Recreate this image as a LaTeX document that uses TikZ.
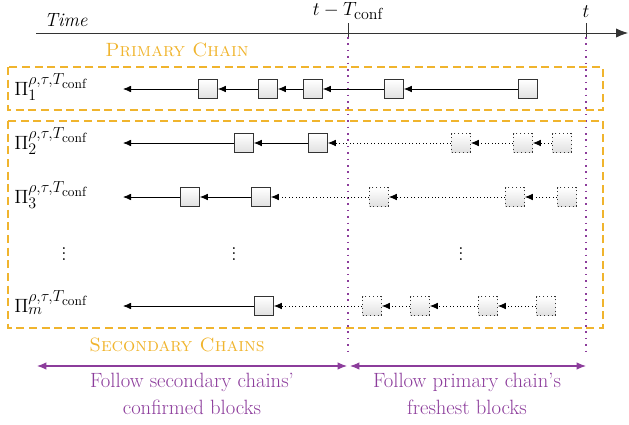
\documentclass[tikz,border=0pt]{standalone}
\usepackage{fontspec}
\usetikzlibrary{arrows.meta}
\DeclareMathSizes{14.4}{14.4}{12}{10}
\definecolor{chainorange}{RGB}{240,180,45}
\definecolor{followpurple}{RGB}{140,60,155}
\tikzset{
  blk/.style={draw=black!80, line width=0.8pt, minimum size=14pt, inner sep=0pt, top color=white, bottom color=black!12},
  fblk/.style={blk, dotted},
  link/.style={-{Latex[length=6pt,width=5pt]}, line width=0.6pt},
  flink/.style={link, dotted},
  chainbox/.style={draw=chainorange, dash pattern=on 6pt off 3.5pt, line width=0.8pt},
  cutline/.style={draw=followpurple, line width=1.3pt, dash pattern=on 1.2pt off 3.6pt},
  spanarrow/.style={{Latex[length=7pt,width=5.5pt]}-{Latex[length=7pt,width=5.5pt]}, draw=followpurple, line width=0.8pt},
  chainlabel/.style={anchor=base west, inner sep=0pt},
  followtext/.style={text=followpurple, align=center, font=\fontsize{15.5}{20}\selectfont},
}
\begin{document}
\begin{tikzpicture}[x=0.75pt,y=0.75pt,yscale=-1,font=\fontsize{14.4}{20}\selectfont]
\useasboundingbox (0,0) rectangle (629,425);
% time axis
\coordinate (t0) at (36,33);
\coordinate (t1) at (628,33);
\draw[-{Latex[length=9pt,width=7pt]}, line width=0.6pt, black!80] (t0) -- (t1);
\node (time) at (66,20) {\textit{Time}};
\coordinate (conftop) at (348,23);
\coordinate (confbot) at (348,357);
\coordinate (nowtop) at (586,23);
\coordinate (nowbot) at (586,357);
\draw[line width=0.6pt, black!80] (conftop) -- (348,37);
\draw[line width=0.6pt, black!80] (nowtop) -- (586,37);
\node[anchor=base] (conflbl) at (348,15) {$t-T_{\mathrm{conf}}$};
\node[anchor=base] (nowlbl) at (586,17) {$t$};
\draw[cutline] (348,37) -- (confbot);
\draw[cutline] (586,37) -- (nowbot);
% chain groups
\draw[chainbox] (8,67) rectangle (603,110);
\draw[chainbox] (8,121) rectangle (603,328);
\node[text=chainorange] (primlbl) at (177,50) {\textsc{Primary Chain}};
\node[text=chainorange] (seclbl) at (177,345) {\textsc{Secondary Chains}};
% primary chain
\node[chainlabel] (p1) at (14,95) {$\Pi_1^{\rho,\tau,T_{\mathrm{conf}}}$};
\coordinate (e1) at (123,89);
\node[blk] (a1) at (208,89) {};
\node[blk] (a2) at (268,89) {};
\node[blk] (a3) at (313,89) {};
\node[blk] (a4) at (394,89) {};
\node[blk] (a5) at (528,89) {};
\draw[link] (a1) -- (e1);
\draw[link] (a2) -- (a1);
\draw[link] (a3) -- (a2);
\draw[link] (a4) -- (a3);
\draw[link] (a5) -- (a4);
% secondary chain 2
\node[chainlabel] (p2) at (14,149) {$\Pi_2^{\rho,\tau,T_{\mathrm{conf}}}$};
\coordinate (e2) at (123,143);
\node[blk] (b1) at (244,143) {};
\node[blk] (b2) at (318,143) {};
\node[fblk] (b3) at (461,143) {};
\node[fblk] (b4) at (523,143) {};
\node[fblk] (b5) at (562,143) {};
\draw[link] (b1) -- (e2);
\draw[link] (b2) -- (b1);
\draw[flink] (b3) -- (b2);
\draw[flink] (b4) -- (b3);
\draw[flink] (b5) -- (b4);
% secondary chain 3
\node[chainlabel] (p3) at (14,203) {$\Pi_3^{\rho,\tau,T_{\mathrm{conf}}}$};
\coordinate (e3) at (123,197);
\node[blk] (c1) at (190,197) {};
\node[blk] (c2) at (261,197) {};
\node[fblk] (c3) at (379,197) {};
\node[fblk] (c4) at (515,197) {};
\node[fblk] (c5) at (567,197) {};
\draw[link] (c1) -- (e3);
\draw[link] (c2) -- (c1);
\draw[flink] (c3) -- (c2);
\draw[flink] (c4) -- (c3);
\draw[flink] (c5) -- (c4);
% dots
\node (d1) at (64,250) {$\vdots$};
\node (d2) at (234,250) {$\vdots$};
\node (d3) at (461,250) {$\vdots$};
% secondary chain m
\node[chainlabel] (pm) at (14,312) {$\Pi_m^{\rho,\tau,T_{\mathrm{conf}}}$};
\coordinate (em) at (123,306);
\node[blk] (m1) at (264,306) {};
\node[fblk] (m2) at (372,306) {};
\node[fblk] (m3) at (420,306) {};
\node[fblk] (m4) at (488,306) {};
\node[fblk] (m5) at (546,306) {};
\draw[link] (m1) -- (em);
\draw[flink] (m2) -- (m1);
\draw[flink] (m3) -- (m2);
\draw[flink] (m4) -- (m3);
\draw[flink] (m5) -- (m4);
% follow rules
\coordinate (s0) at (37,366);
\coordinate (s1) at (347,366);
\coordinate (s2) at (350,366);
\coordinate (s3) at (586,366);
\draw[spanarrow] (s0) -- (s1);
\draw[spanarrow] (s2) -- (s3);
\node[followtext] (fsec) at (192,394) {Follow secondary chains'\\confirmed blocks};
\node[followtext] (fprim) at (467,394) {Follow primary chain's\\freshest blocks};
\end{tikzpicture}
\end{document}
